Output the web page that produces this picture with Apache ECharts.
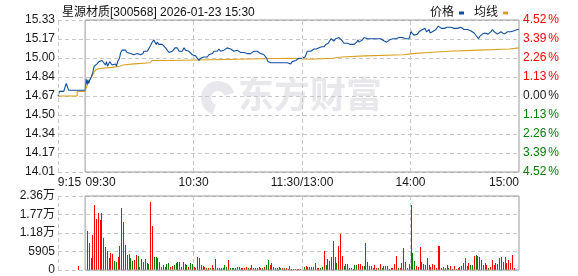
<!DOCTYPE html>
<html><head><meta charset="utf-8">
<script src="https://cdn.jsdelivr.net/npm/echarts/dist/echarts.min.js"></script>
<style>html,body{margin:0;padding:0;background:#fff}#c{width:578px;height:276px}</style>
</head><body><div id="c"></div>
<script>
const titleText = '星源材质[300568] 2026-01-23 15:30';
const prevClose = 14.67;
// minutes since 09:30 (11:30 and 13:00 share 120), price
const pricePoints = [[-15,14.67],[-14.2,14.71],[-11.8,14.71],[-10.9,14.76],[-10.4,14.78],[-9.8,14.75],[-9.1,14.72],[0,14.72],
[0.5,14.82],[1.1,14.77],[1.5,14.81],[2,14.78],[2.6,14.81],[3.2,14.80],[3.5,14.84],[4.3,14.88],[5,14.93],[5.7,14.94],[6.6,14.95],[7.6,14.97],[8.5,14.98],[9.4,14.98],[10.3,14.98],[11.2,14.94],[11.8,14.97],[12.4,14.93],[13.1,14.93],[13.6,14.97],[14.2,14.98],[14.9,14.94],[15.9,14.93],[16.8,14.95],[17.3,14.93],[18,14.97],[19,15.00],[19.7,15.05],[20.5,15.07],[21.4,15.07],[22.3,15.07],[23.2,15.05],[24.2,15.06],[25.1,15.04],[26,15.03],[26.9,15.03],[27.9,15.04],
[28.8,15.04],[29.7,15.03],[30.7,15.03],[31.2,15.02],[32,15.04],[32.5,15.06],[33.4,15.06],[34.4,15.06],[35.3,15.07],[36.2,15.11],[37.1,15.14],[38.1,15.16],[38.6,15.14],[39.3,15.12],[39.9,15.14],[40.8,15.12],[41.7,15.12],[42.7,15.12],[43.6,15.11],[44.5,15.09],[45.4,15.07],[46.4,15.05],[47.3,15.05],[48.2,15.06],[49.1,15.07],[49.7,15.09],[50.4,15.08],[51,15.09],[51.9,15.06],[52.8,15.07],[53.7,15.06],[54.7,15.09],[55.6,15.07],[56.5,15.07],[57.4,15.06],[58.4,15.05],[59.3,15.03],[60.2,15.03],[61.1,15.02],[62.1,15.01],[63,14.98],[63.9,15.00],[64.8,14.99],[65.7,15.01],[66.7,15.01],[67.6,15.01],[68.5,15.03],[69.4,15.03],[70.4,15.04],[71.3,15.06],[72.2,15.06],
[73.1,15.06],[74,15.08],[74.9,15.06],[75.8,15.07],[76.8,15.07],[77.7,15.08],[78.6,15.09],[79.5,15.10],[80.5,15.08],[81.4,15.07],[82.3,15.06],[83.2,15.07],[84.1,15.07],[85.1,15.06],[86,15.05],[86.9,15.06],[87.8,15.05],[88.8,15.06],[89.7,15.04],[90.6,15.05],[91.5,15.04],[92.5,15.05],[93.4,15.06],[94.3,15.07],[95.2,15.06],[96.1,15.05],[97.1,15.04],[98,15.04],[98.9,15.03],[99.8,15.03],[100.4,15.00],[101.1,14.97],[101.7,14.97],[102.6,14.96],[103.5,14.97],[104.5,14.96],[105.4,14.96],[106.3,14.96],[107.2,14.97],[108.1,14.96],[109.1,14.95],[110,14.96],[110.9,14.97],[111.8,14.96],[112.8,14.95],[113.7,14.95],[114.6,14.97],[115.5,14.98],[116.5,14.98],
[117.4,14.98],[118.3,15.00],[119.2,14.99],[120.1,15.00],[121.1,14.99],[121.6,15.01],[122.4,15.04],[122.9,15.06],[123.8,15.06],[124.8,15.06],[125.7,15.07],[126.6,15.08],[127.2,15.09],[127.9,15.08],[128.4,15.09],[129.4,15.09],[129.9,15.10],[130.9,15.10],[131.6,15.11],[132.3,15.10],[133.1,15.12],[134,15.12],[134.5,15.13],[135.5,15.14],[136,15.17],[136.8,15.16],[137.7,15.15],[138.6,15.17],[139.5,15.18],[140.4,15.18],[141.4,15.17],[142.3,15.15],[143.2,15.13],[144.1,15.14],[145.1,15.13],[146,15.13],[146.9,15.12],[147.8,15.13],[148.8,15.12],[149.7,15.13],[150.2,15.14],[151,15.16],[151.5,15.14],[152.4,15.14],[153.4,15.16],[154.3,15.18],[155.2,15.18],[156.1,15.17],[157.1,15.17],[158,15.17],[158.9,15.17],[159.8,15.17],[160.8,15.17],
[161.7,15.17],[162.6,15.17],[163.5,15.17],[164.4,15.16],[165.4,15.15],[166.3,15.15],[166.8,15.14],[167.6,15.15],[168.5,15.16],[169.6,15.16],[170.3,15.17],[170.9,15.17],[171.8,15.17],[172.7,15.18],[173.7,15.18],[174.6,15.18],[175.5,15.18],[176.4,15.17],[177.4,15.17],[178.3,15.17],[179.2,15.17],[179.8,15.20],[180.1,15.24],[180.7,15.22],[181.4,15.22],[182,15.20],[182.9,15.21],[183.8,15.21],[184.7,15.23],[185.7,15.24],[186.6,15.25],[187.5,15.26],[188.1,15.26],[188.8,15.23],[189.5,15.24],[190.3,15.25],[190.8,15.22],[191.4,15.21],[192.1,15.23],[193,15.23],[194,15.25],[194.9,15.26],[195.4,15.28],[195.8,15.29],[196.4,15.27],[197.1,15.26],[197.7,15.27],[198.6,15.26],[199.5,15.26],[200.4,15.27],[201.4,15.26],[202.3,15.27],[203.2,15.27],[204.1,15.26],[205,15.26],
[206,15.26],[206.9,15.27],[207.8,15.27],[208.7,15.26],[209.7,15.25],[210.6,15.24],[211.5,15.25],[212.4,15.24],[213.3,15.24],[214.3,15.23],[215.2,15.22],[216.1,15.20],[217,15.19],[217.6,15.17],[218.3,15.19],[218.9,15.20],[219.8,15.21],[220.4,15.20],[221.1,15.22],[221.7,15.23],[222.2,15.22],[222.9,15.21],[223.5,15.22],[224.4,15.23],[225.3,15.25],[226.3,15.23],[227.2,15.22],[228.1,15.21],[229,15.22],[230,15.23],[230.9,15.22],[231.8,15.21],[232.7,15.21],[233.7,15.23],[234.6,15.23],[235.5,15.23],[236.4,15.23],[237.3,15.24],[238.3,15.24],[239.2,15.25],[240,15.25]];
const avgPoints = [[-15,14.67],[-4.4,14.67],[-4.4,14.71],[0,14.72],[1,14.76],[2,14.80],[3,14.82],[4,14.85],[5,14.88],[6,14.90],[7,14.91],[8,14.92],[15,14.93],[19,14.94],[21,14.95],[27,14.96],[36,14.97],[37,14.98],[48,14.99],[84,15.00],[114,14.99],[124,15.00],[137,15.01],[142,15.02],[155,15.03],[176,15.04],[181,15.05],[190,15.06],[201,15.07],[218,15.08],[234.5,15.09],[240,15.09]];
// volume: first value is the 09:25 auction bar, then one per minute 09:31..11:30, 13:01..15:00
const volumes = [1280,
12450,8510,3720,11170,20750,16280,18090,15960,18300,10320,7240,6070,3940,5320,5000,2870,2450,4260,7660,19900,
15430,7980,4790,5110,3940,2870,3190,4790,4470,1060,3510,2660,3510,2130,1810,21810,14150,4260,4260,3720,
2450,1060,1600,1060,1810,2130,1060,1380,1600,2130,2450,2660,1060,2450,1810,1600,1060,2340,1810,1060,
750,4260,3940,1600,1380,1060,750,530,530,1600,750,3510,750,530,750,750,1600,1060,3190,530,
530,530,530,1060,1060,530,530,750,1060,530,530,1600,530,530,530,1060,750,530,1060,1600,
3190,1600,2130,1060,530,750,1060,530,530,530,530,430,1280,320,320,320,320,320,320,960,
850,1280,1060,850,960,960,2340,750,750,750,1060,6170,1600,3510,2870,4260,9260,4260,2130,7660,
11390,4580,1380,1810,1810,530,530,320,1600,1600,1810,1920,1280,1280,8510,2450,1280,1280,530,1600,
530,530,1920,530,1170,1170,1170,430,530,750,1810,4470,530,530,2230,7130,2450,750,1920,20750,
5320,2870,1280,960,7450,2660,1920,1600,3940,1600,1060,1920,1600,750,7660,7660,530,960,640,1600,
530,1280,320,1280,320,750,1060,1280,2130,3940,1280,2130,1600,1600,4470,4790,4580,4260,3190,1600,
2130,1600,750,1060,3190,1600,2130,1920,3940,4260,2450,4260,2130,3190,2340,4790,530,0,0,11390];
// 1 = up (red), -1 = down (green)
const volDirs = [1,
1,-1,1,1,1,1,1,1,1,1,-1,-1,-1,1,1,-1,-1,1,1,1,
1,1,-1,1,-1,-1,1,1,-1,-1,1,1,1,-1,-1,1,1,-1,-1,1,
-1,-1,1,-1,-1,-1,1,1,-1,-1,-1,-1,1,-1,-1,-1,1,-1,-1,1,
1,-1,-1,1,-1,1,-1,1,-1,1,1,1,1,1,-1,1,-1,-1,1,-1,
-1,-1,1,-1,-1,1,1,1,1,-1,1,1,1,-1,1,1,1,-1,1,-1,
-1,1,-1,1,-1,-1,-1,-1,1,-1,1,1,-1,1,1,1,1,1,1,-1,
-1,1,1,1,1,-1,1,-1,1,-1,-1,1,-1,1,1,1,1,-1,-1,1,
1,1,-1,-1,1,-1,-1,-1,-1,-1,1,1,1,-1,1,1,-1,-1,1,1,
1,-1,1,-1,-1,-1,-1,-1,1,1,1,1,-1,1,1,1,1,1,1,1,
-1,-1,1,1,1,1,1,1,-1,1,1,1,1,1,1,1,-1,-1,-1,1,
-1,1,-1,1,-1,1,1,1,-1,-1,-1,1,-1,-1,1,-1,-1,-1,1,-1,
-1,1,-1,1,1,1,-1,-1,1,1,-1,-1,1,1,1,1,1,1,1,1];
const timeTickValues = [-15, 0, 60, 120, 180, 240];
const timeTickLabels = ['9:15', '09:30', '10:30', '11:30/13:00', '14:00', '15:00'];
const priceTickLabels = ['14.01', '14.17', '14.34', '14.50', '14.67', '14.84', '15.00', '15.17', '15.33'];
const pctTickLabels = ['4.52', '3.39', '2.26', '1.13', '0.00', '1.13', '2.26', '3.39', '4.52'];
const volTickLabels = ['0', '5905', '1.18万', '1.77万', '2.36万'];
const legendNames = ['价格', '均线'];
const gridMinutes = [-15, 60, 120, 180];

const volMinutes = [-4];
for (let m = 1; m <= 240; m++) volMinutes.push(m);

const FONT = "'Liberation Sans','Noto Sans CJK SC',sans-serif";
const RED = '#ff0000', GREEN = '#008000', DARK = '#1a1a1a';
const W = 578, L = 58, R = 59;
const plotW = W - L - R;
const openX = L + 15 / 255 * plotW;
const toPct = p => (p / prevClose - 1) * 100;
const pctIdx = v => Math.round((v + 4.52) / 1.13);
const tickColor = i => i > 4 ? RED : (i < 4 ? GREEN : DARK);
const dashed = { color: '#c8c8c8', type: [4, 3], width: 1 };
const vLines = () => ({ silent: true, symbol: 'none', label: { show: false }, lineStyle: dashed, data: gridMinutes.map(m => ({ xAxis: m })) });

const chart = echarts.init(document.getElementById('c'), null, { renderer: 'canvas' });
chart.setOption({
  animation: false,
  textStyle: { fontFamily: FONT },
  title: { text: titleText, left: 57, top: 2, textStyle: { fontSize: 12, fontWeight: 'normal', color: '#111', fontFamily: FONT } },
  legend: {
    data: legendNames, right: 65, top: 2, align: 'right', icon: 'rect', itemWidth: 5, itemHeight: 3, itemGap: 10,
    textStyle: { fontSize: 12, color: '#111', fontFamily: FONT }
  },
  graphic: [
    { type: 'text', left: 238, top: 76, z: 0, silent: true, style: { text: '东方财富', fill: '#e8e8ec', font: "bold 36px 'Noto Sans CJK SC'" } },
    { type: 'sector', z: 0, silent: true, shape: { cx: 218, cy: 98, r: 17, r0: 7, startAngle: Math.PI * 0.6, endAngle: Math.PI * 1.9 }, style: { fill: '#e8e8ec' } }
  ],
  grid: [
    { left: L, right: R, top: 20, height: 152 },
    { left: openX, right: R, top: 20, height: 152, show: true, borderColor: '#9a9a9a', borderWidth: 1, backgroundColor: 'transparent', z: 5 },
    { left: L, right: R, top: 196, height: 74 },
    { left: openX, right: R, top: 196, height: 74, show: true, borderColor: '#9a9a9a', borderWidth: 1, backgroundColor: 'transparent', z: 5 }
  ],
  xAxis: [
    { gridIndex: 0, type: 'value', min: -15, max: 240, axisLine: { show: false }, axisTick: { show: false }, splitLine: { show: false },
      axisLabel: { customValues: timeTickValues, margin: 5, fontSize: 12, color: DARK, fontFamily: FONT,
        formatter: v => {
          const i = timeTickValues.indexOf(v);
          const s = timeTickLabels[i];
          if (i === 0) return '{l|' + s + '}';
          if (i === 1) return '{l2|' + s + '}';
          if (i === timeTickValues.length - 1) return '{r|' + s + '}';
          return s;
        },
        rich: {
          l: { padding: [0, 0, 0, 23], fontSize: 12, color: DARK, fontFamily: FONT },
          l2: { padding: [0, 0, 0, 31], fontSize: 12, color: DARK, fontFamily: FONT },
          r: { padding: [0, 30, 0, 0], fontSize: 12, color: DARK, fontFamily: FONT }
        } } },
    { gridIndex: 1, type: 'value', min: 0, max: 1, show: false },
    { gridIndex: 2, type: 'value', min: -15, max: 240, show: false },
    { gridIndex: 3, type: 'value', min: 0, max: 1, show: false }
  ],
  yAxis: [
    { gridIndex: 0, type: 'value', min: -4.52, max: 4.52, interval: 1.13, position: 'left',
      axisLine: { show: false }, axisTick: { show: false }, splitLine: { show: true, lineStyle: dashed },
      axisLabel: { margin: 3, fontSize: 12, fontFamily: FONT, formatter: v => priceTickLabels[pctIdx(v)], color: v => tickColor(pctIdx(v)) } },
    { gridIndex: 0, type: 'value', min: -4.52, max: 4.52, interval: 1.13, position: 'right',
      axisLine: { show: false }, axisTick: { show: false }, splitLine: { show: false },
      axisLabel: { margin: 4, fontSize: 12, fontFamily: FONT, color: v => tickColor(pctIdx(v)),
        formatter: v => { const i = pctIdx(v); const k = i > 4 ? 'r' : (i < 4 ? 'g' : 'k'); return '{' + k + '|' + pctTickLabels[i] + '}{' + k + 'p|%}'; },
        rich: {
          r: { color: RED, fontSize: 12, fontFamily: FONT }, rp: { color: RED, fontSize: 12, fontFamily: FONT, padding: [0, 0, 0, 2] },
          g: { color: GREEN, fontSize: 12, fontFamily: FONT }, gp: { color: GREEN, fontSize: 12, fontFamily: FONT, padding: [0, 0, 0, 2] },
          k: { color: DARK, fontSize: 12, fontFamily: FONT }, kp: { color: DARK, fontSize: 12, fontFamily: FONT, padding: [0, 0, 0, 2] }
        } } },
    { gridIndex: 1, type: 'value', min: 0, max: 1, show: false },
    { gridIndex: 2, type: 'value', min: 0, max: 23620, interval: 5905,
      axisLine: { show: false }, axisTick: { show: false }, splitLine: { show: true, lineStyle: dashed },
      axisLabel: { margin: 3, fontSize: 12, fontFamily: FONT, color: DARK, formatter: v => volTickLabels[Math.round(v / 5905)] } },
    { gridIndex: 3, type: 'value', min: 0, max: 1, show: false }
  ],
  series: [
    { type: 'line', xAxisIndex: 0, yAxisIndex: 0, data: [], z: 1, silent: true, markLine: vLines() },
    { type: 'line', xAxisIndex: 2, yAxisIndex: 3, data: [], z: 1, silent: true, markLine: vLines() },
    { name: legendNames[1], type: 'line', xAxisIndex: 0, yAxisIndex: 0, z: 3, showSymbol: false, silent: true,
      itemStyle: { color: '#dba11d' }, lineStyle: { color: '#dba11d', width: 1.1 }, step: 'end',
      data: avgPoints.map(d => [d[0], toPct(d[1])]) },
    { name: legendNames[0], type: 'line', xAxisIndex: 0, yAxisIndex: 0, z: 4, showSymbol: false, silent: true,
      itemStyle: { color: '#0f4fa0' }, lineStyle: { color: '#0f4fa0', width: 1.1 },
      data: pricePoints.map(d => [d[0], toPct(d[1])]) },
    { type: 'custom', xAxisIndex: 2, yAxisIndex: 3, z: 3, silent: true, clip: true,
      data: volMinutes.map((t, i) => [t, volumes[i], volDirs[i]]),
      renderItem: (params, api) => {
        const top = api.coord([api.value(0), api.value(1)]);
        const base = api.coord([api.value(0), 0]);
        const y0 = Math.round(top[1]);
        return { type: 'rect',
          shape: { x: Math.round(top[0]), y: y0, width: 1, height: Math.round(base[1]) - y0 },
          style: { fill: api.value(2) > 0 ? RED : GREEN } };
      } }
  ]
});
</script></body></html>
